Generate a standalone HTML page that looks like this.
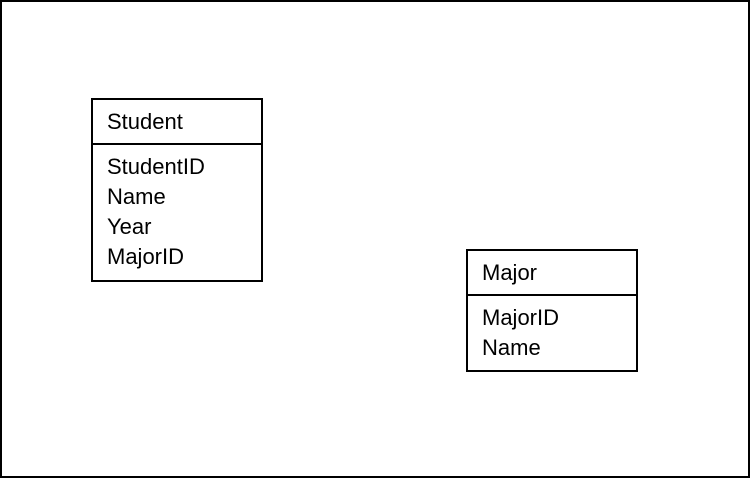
<!DOCTYPE html>
<html><head><style>
html,body{margin:0;padding:0;background:#fff;}
svg{display:block;}
text{font-family:"Liberation Sans",sans-serif;font-size:22px;fill:#000;}
</style></head><body>
<svg width="750" height="478" viewBox="0 0 750 478">
<rect x="1" y="1" width="748" height="476" fill="#fff" stroke="#000" stroke-width="2"/>
<rect x="92" y="99" width="170" height="182" fill="#fff" stroke="#000" stroke-width="2"/>
<line x1="92" y1="144" x2="262" y2="144" stroke="#000" stroke-width="2"/>
<text x="107" y="129">Student</text>
<text x="107" y="174">StudentID</text>
<text x="107" y="204">Name</text>
<text x="107" y="234">Year</text>
<text x="107" y="264">MajorID</text>
<rect x="467" y="250" width="170" height="121" fill="#fff" stroke="#000" stroke-width="2"/>
<line x1="467" y1="295" x2="637" y2="295" stroke="#000" stroke-width="2"/>
<text x="482" y="280">Major</text>
<text x="482" y="325">MajorID</text>
<text x="482" y="355">Name</text>
</svg>
</body></html>
